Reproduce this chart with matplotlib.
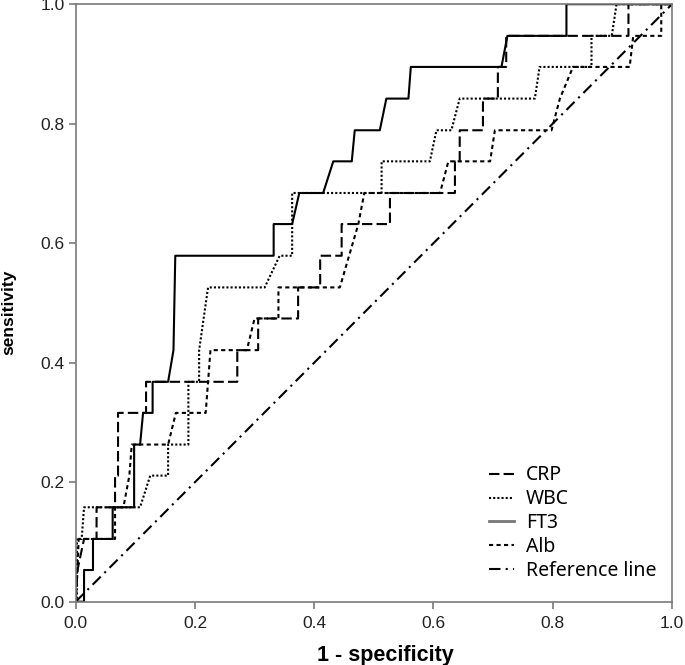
import matplotlib
matplotlib.use('Agg')
from matplotlib import pyplot as plt

# ROC points (1 - specificity, sensitivity)
crp_fpr = [0, 0.003, 0.014, 0.035, 0.035, 0.066, 0.066, 0.071, 0.071, 0.118, 0.118, 0.271, 0.271,
           0.306, 0.306, 0.373, 0.373, 0.410, 0.410, 0.446, 0.446, 0.527, 0.527, 0.636, 0.636,
           0.644, 0.644, 0.683, 0.683, 0.708, 0.708, 0.722, 0.722, 0.927, 0.927, 1.0]
crp_tpr = [0, 0.053, 0.105, 0.105, 0.158, 0.158, 0.211, 0.211, 0.316, 0.316, 0.368, 0.368, 0.421,
           0.421, 0.474, 0.474, 0.526, 0.526, 0.579, 0.579, 0.632, 0.632, 0.684, 0.684, 0.737,
           0.737, 0.789, 0.789, 0.842, 0.842, 0.895, 0.895, 0.947, 0.947, 1.0, 1.0]

wbc_fpr = [0, 0.002, 0.002, 0.010, 0.014, 0.108, 0.125, 0.155, 0.155, 0.189, 0.189, 0.207, 0.207,
           0.222, 0.317, 0.342, 0.363, 0.363, 0.513, 0.513, 0.594, 0.605, 0.630, 0.644, 0.770,
           0.778, 0.865, 0.865, 0.899, 0.907, 1.0]
wbc_tpr = [0, 0, 0.105, 0.105, 0.158, 0.158, 0.211, 0.211, 0.263, 0.263, 0.368, 0.368, 0.421,
           0.526, 0.526, 0.579, 0.579, 0.684, 0.684, 0.737, 0.737, 0.789, 0.789, 0.842, 0.842,
           0.895, 0.895, 0.947, 0.947, 1.0, 1.0]

ft3_fpr = [0, 0.014, 0.014, 0.029, 0.029, 0.062, 0.062, 0.098, 0.098, 0.108, 0.113, 0.129, 0.129,
           0.155, 0.164, 0.167, 0.332, 0.332, 0.363, 0.375, 0.415, 0.432, 0.463, 0.468, 0.510,
           0.521, 0.558, 0.562, 0.714, 0.724, 0.823, 0.823, 1.0]
ft3_tpr = [0, 0, 0.053, 0.053, 0.105, 0.105, 0.158, 0.158, 0.263, 0.263, 0.316, 0.316, 0.368,
           0.368, 0.421, 0.579, 0.579, 0.632, 0.632, 0.684, 0.684, 0.737, 0.737, 0.789, 0.789,
           0.842, 0.842, 0.895, 0.895, 0.947, 0.947, 1.0, 1.0]

alb_fpr = [0, 0.003, 0.005, 0.066, 0.066, 0.080, 0.090, 0.094, 0.155, 0.168, 0.218, 0.222, 0.226,
           0.287, 0.300, 0.308, 0.340, 0.340, 0.443, 0.474, 0.484, 0.611, 0.625, 0.695, 0.703,
           0.798, 0.812, 0.834, 0.929, 0.935, 0.982, 0.982, 1.0]
alb_tpr = [0, 0.053, 0.105, 0.105, 0.158, 0.158, 0.211, 0.263, 0.263, 0.316, 0.316, 0.368, 0.421,
           0.421, 0.474, 0.474, 0.474, 0.526, 0.526, 0.632, 0.684, 0.684, 0.737, 0.737, 0.789,
           0.789, 0.842, 0.895, 0.895, 0.947, 0.947, 1.0, 1.0]

ref_line = [0, 1]

plt.rcParams['font.family'] = ['Liberation Sans', 'DejaVu Sans']

fig = plt.figure(figsize=(6.85, 6.65), dpi=100)
ax = fig.add_axes([0.1105, 0.0952, 0.8705, 0.8985])

lw = 1.5
ax.plot(crp_fpr, crp_tpr, color='black', lw=lw, dashes=(5, 2), label='CRP')
ax.plot(wbc_fpr, wbc_tpr, color='black', lw=lw, dashes=(1, 1), label='WBC')
ax.plot(ft3_fpr, ft3_tpr, color='black', lw=lw, label='FT3')
ax.plot(alb_fpr, alb_tpr, color='black', lw=lw, dashes=(2, 1.6), label='Alb')
ax.plot(ref_line, ref_line, color='black', lw=lw, dashes=(5.5, 2.5, 1, 2.5), label='Reference line')

ax.set_xlim(0, 1)
ax.set_ylim(0, 1)
ax.set_xticks([0, 0.2, 0.4, 0.6, 0.8, 1.0])
ax.set_yticks([0, 0.2, 0.4, 0.6, 0.8, 1.0])
ax.set_xticklabels(['0.0', '0.2', '0.4', '0.6', '0.8', '1.0'])
ax.set_yticklabels(['0.0', '0.2', '0.4', '0.6', '0.8', '1.0'])

for s in ax.spines.values():
    s.set_color('#7a7a7a')
    s.set_linewidth(1.2)
ax.tick_params(direction='out', length=5, width=1.2, color='#7a7a7a',
               labelsize=12.5, labelcolor='#222222')
ax.tick_params(axis='x', pad=5)
ax.tick_params(axis='y', pad=3)

ax.set_xlabel('1 - specificity', fontsize=15.5, fontweight='bold')
ax.set_ylabel('sensitivity', fontsize=12.5, fontweight='bold')
ax.xaxis.set_label_coords(0.52, -0.073)
ax.yaxis.set_label_coords(-0.1, 0.485)

handles, labels = ax.get_legend_handles_labels()
handles[2] = plt.Line2D([], [], color='#777777', lw=2)
leg = ax.legend(handles, labels, loc='upper left', bbox_to_anchor=(0.693, 0.228),
                frameon=False, borderpad=0, borderaxespad=0, handlelength=1.3,
                handletextpad=0.6, labelspacing=0.2,
                prop={'family': 'Noto Sans', 'size': 14})

fig.savefig('out.png', dpi=100)
